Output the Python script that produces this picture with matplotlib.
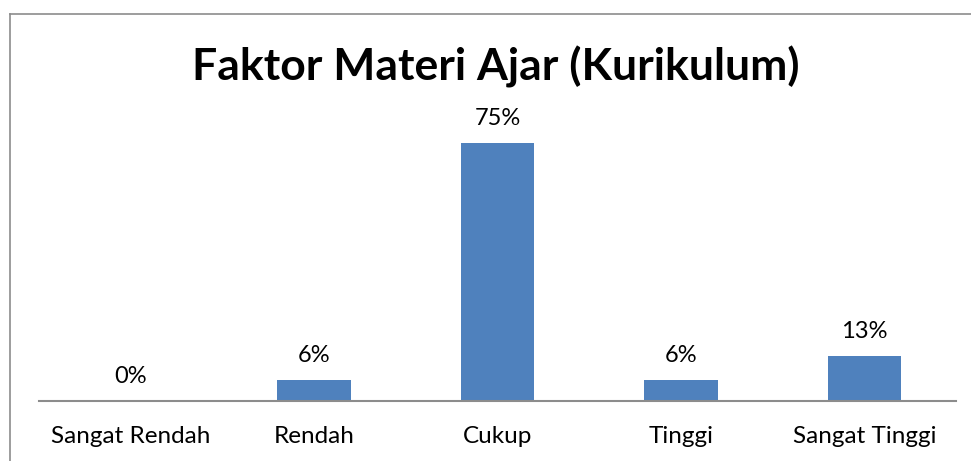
import matplotlib
matplotlib.use("Agg")
import matplotlib.pyplot as plt
from matplotlib.lines import Line2D

categories = ["Sangat Rendah", "Rendah", "Cukup", "Tinggi", "Sangat Tinggi"]
values = [0, 6, 75, 6, 13]
labels = ["0%", "6%", "75%", "6%", "13%"]
title = "Faktor Materi Ajar (Kurikulum)"

plt.rcParams['font.family'] = ['Lato', 'DejaVu Sans']

W, H = 971, 461
fig = plt.figure(figsize=(W / 100, H / 100), dpi=100)

# outer chart border (left and top visible)
fig.add_artist(Line2D([9.5 / W, 9.5 / W], [0, 1 - 14.5 / H], transform=fig.transFigure,
                      color='#8c8c8c', lw=1.2))
fig.add_artist(Line2D([9.5 / W, 1], [1 - 14.5 / H, 1 - 14.5 / H], transform=fig.transFigure,
                      color='#8c8c8c', lw=1.2))

left, right = 39 / W, 956 / W
bottom = 1 - 401 / H
top = 1 - 125.8 / H
ax = fig.add_axes([left, bottom, right - left, top - bottom])

x = range(len(categories))
bars = ax.bar(x, values, width=0.4, color='#4F81BD', zorder=2)
ax.set_xlim(-0.5, len(categories) - 0.5)
ax.set_ylim(0, 80)

for b, lab in zip(bars, labels):
    ax.annotate(lab, (b.get_x() + b.get_width() / 2, b.get_height()),
                xytext=(0, 10), textcoords='offset points', ha='center', va='bottom',
                fontsize=17, color='black')

for s in ['top', 'right', 'left']:
    ax.spines[s].set_visible(False)
ax.spines['bottom'].set_color('#8c8c8c')
ax.spines['bottom'].set_linewidth(1.5)
ax.set_yticks([])
ax.set_xticks(list(x))
ax.set_xticklabels(categories, fontsize=17.5)
ax.tick_params(axis='x', length=0, pad=18)

fig.text(496 / W, 1 - 67 / H, title, ha='center', va='center', fontsize=32,
         fontweight='bold')

fig.savefig("out.png", dpi=100)
